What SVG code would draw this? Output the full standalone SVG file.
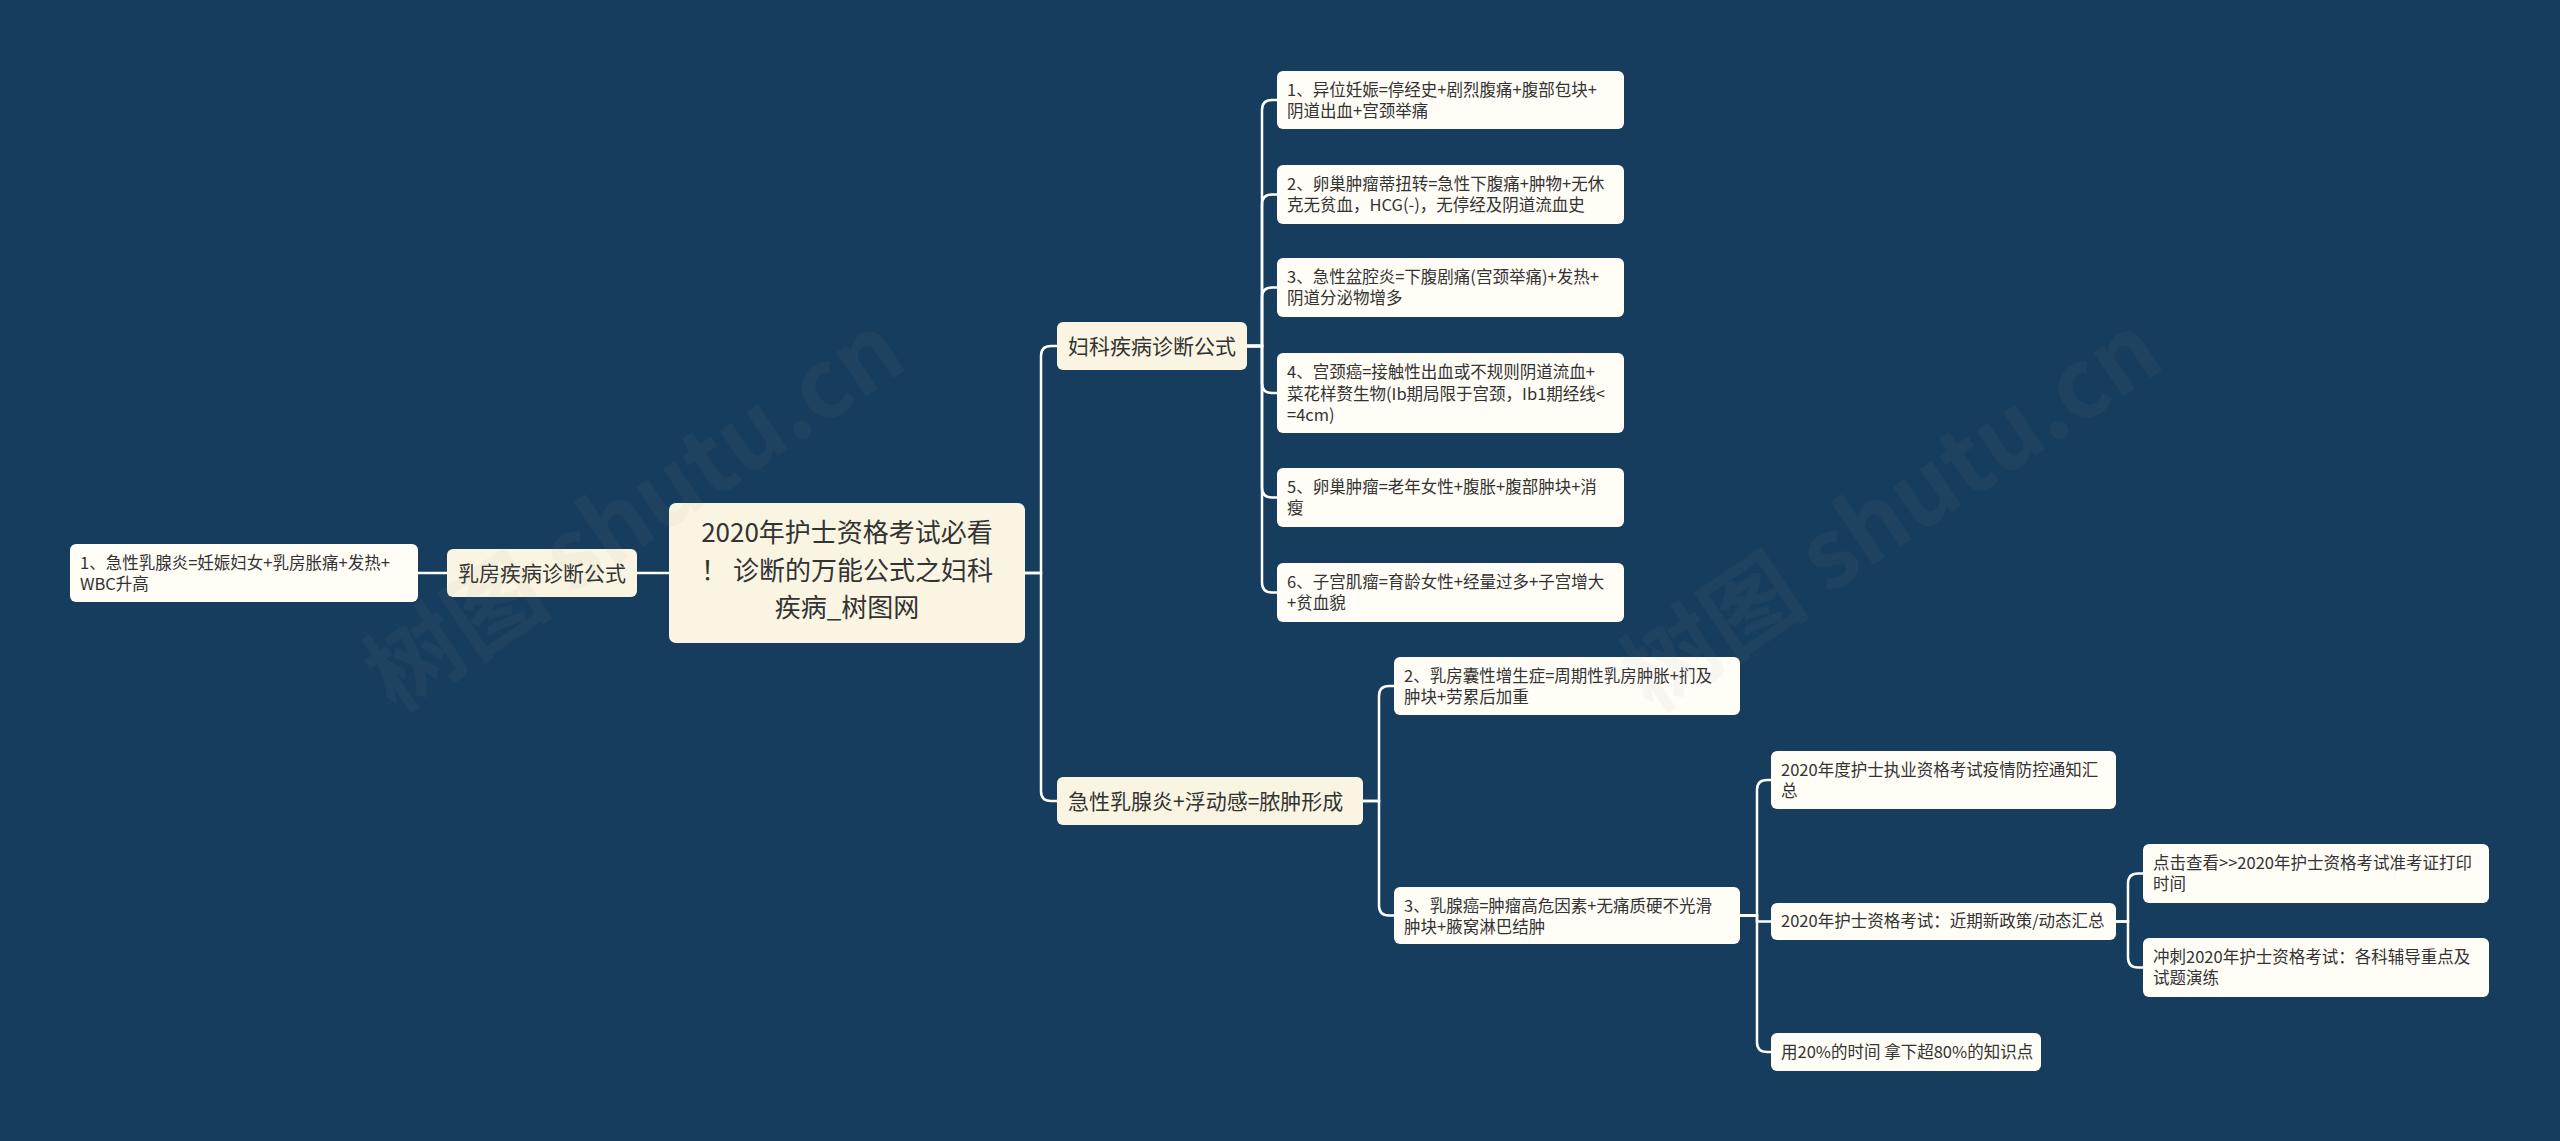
<svg xmlns="http://www.w3.org/2000/svg" width="2560" height="1141" viewBox="0 0 2560 1141">
<style>
.bg{fill:#173d5e}
.main{fill:#faf5e2}
.leaf{fill:#fffdf6}
text{font-family:"Noto Sans CJK SC","Noto Sans",sans-serif;fill:#333333}
.t0{font-size:26px;text-anchor:middle}
.t1{font-size:21px}
.t2{font-size:16.5px}
.ln{fill:none;stroke:#ffffff;stroke-width:2.5;stroke-linecap:round}
.wm{font-size:95px;font-weight:bold;fill:#9a9a9a;opacity:0.06}
</style>
<rect class="bg" x="0" y="0" width="2560" height="1141"/>

<g id="connectors">
  <path class="ln" d="M669 573 H637"/>
  <path class="ln" d="M447 573 H418"/>
  <path class="ln" d="M1025 573 H1041 V356 Q1041 346 1051 346 H1057"/>
  <path class="ln" d="M1025 573 H1041 V791 Q1041 801 1051 801 H1057"/>
  <path class="ln" d="M1247 346 H1262 V110 Q1262 100 1272 100 H1277"/>
  <path class="ln" d="M1247 346 H1262 V204.5 Q1262 194.5 1272 194.5 H1277"/>
  <path class="ln" d="M1247 346 H1262 V297.5 Q1262 287.5 1272 287.5 H1277"/>
  <path class="ln" d="M1247 346 H1262 V383 Q1262 393 1272 393 H1277"/>
  <path class="ln" d="M1247 346 H1262 V487.5 Q1262 497.5 1272 497.5 H1277"/>
  <path class="ln" d="M1247 346 H1262 V582.5 Q1262 592.5 1272 592.5 H1277"/>
  <path class="ln" d="M1363 801 H1379 V696 Q1379 686 1389 686 H1394"/>
  <path class="ln" d="M1363 801 H1379 V905.5 Q1379 915.5 1389 915.5 H1394"/>
  <path class="ln" d="M1740 915.5 H1757 V790 Q1757 780 1767 780 H1771"/>
  <path class="ln" d="M1740 915.5 H1757 V921.5 H1771"/>
  <path class="ln" d="M1740 915.5 H1757 V1042 Q1757 1052 1767 1052 H1771"/>
  <path class="ln" d="M2116 921.5 H2128 V883.5 Q2128 873.5 2138 873.5 H2143"/>
  <path class="ln" d="M2116 921.5 H2128 V957.5 Q2128 967.5 2138 967.5 H2143"/>
</g>

<g id="root">
  <rect class="main" x="669" y="503" width="356" height="140" rx="7"/>
  <text class="t0" x="847" y="542">2020年护士资格考试必看</text>
  <text class="t0" x="847" y="580">！ 诊断的万能公式之妇科</text>
  <text class="t0" x="847" y="617">疾病_树图网</text>
</g>

<g id="n-rufang">
  <rect class="main" x="447" y="549" width="190" height="48" rx="6"/>
  <text class="t1" x="458" y="581">乳房疾病诊断公式</text>
</g>
<g id="n-rufang-1">
  <rect class="leaf" x="70" y="544" width="348" height="58" rx="6"/>
  <text class="t2" x="80" y="569">1、急性乳腺炎=妊娠妇女+乳房胀痛+发热+</text>
  <text class="t2" x="80" y="590">WBC升高</text>
</g>

<g id="n-fuke">
  <rect class="main" x="1057" y="322" width="190" height="48" rx="6"/>
  <text class="t1" x="1068" y="354">妇科疾病诊断公式</text>
</g>
<g id="n-fuke-1">
  <rect class="leaf" x="1277" y="71" width="347" height="58" rx="6"/>
  <text class="t2" x="1287" y="96">1、异位妊娠=停经史+剧烈腹痛+腹部包块+</text>
  <text class="t2" x="1287" y="117">阴道出血+宫颈举痛</text>
</g>
<g id="n-fuke-2">
  <rect class="leaf" x="1277" y="165" width="347" height="59" rx="6"/>
  <text class="t2" x="1287" y="190">2、卵巢肿瘤蒂扭转=急性下腹痛+肿物+无休</text>
  <text class="t2" x="1287" y="211">克无贫血，HCG(-)，无停经及阴道流血史</text>
</g>
<g id="n-fuke-3">
  <rect class="leaf" x="1277" y="258" width="347" height="59" rx="6"/>
  <text class="t2" x="1287" y="283">3、急性盆腔炎=下腹剧痛(宫颈举痛)+发热+</text>
  <text class="t2" x="1287" y="304">阴道分泌物增多</text>
</g>
<g id="n-fuke-4">
  <rect class="leaf" x="1277" y="353" width="347" height="80" rx="6"/>
  <text class="t2" x="1287" y="378">4、宫颈癌=接触性出血或不规则阴道流血+</text>
  <text class="t2" x="1287" y="399.5">菜花样赘生物(Ib期局限于宫颈，Ib1期经线&lt;</text>
  <text class="t2" x="1287" y="421">=4cm)</text>
</g>
<g id="n-fuke-5">
  <rect class="leaf" x="1277" y="468" width="347" height="59" rx="6"/>
  <text class="t2" x="1287" y="493">5、卵巢肿瘤=老年女性+腹胀+腹部肿块+消</text>
  <text class="t2" x="1287" y="514">瘦</text>
</g>
<g id="n-fuke-6">
  <rect class="leaf" x="1277" y="563" width="347" height="59" rx="6"/>
  <text class="t2" x="1287" y="588">6、子宫肌瘤=育龄女性+经量过多+子宫增大</text>
  <text class="t2" x="1287" y="609">+贫血貌</text>
</g>

<g id="n-ruxian">
  <rect class="main" x="1057" y="777" width="306" height="48" rx="6"/>
  <text class="t1" x="1068" y="809">急性乳腺炎+浮动感=脓肿形成</text>
</g>
<g id="n-ruxian-2">
  <rect class="leaf" x="1394" y="657" width="346" height="58" rx="6"/>
  <text class="t2" x="1404" y="682">2、乳房囊性增生症=周期性乳房肿胀+扪及</text>
  <text class="t2" x="1404" y="703">肿块+劳累后加重</text>
</g>
<g id="n-ruxian-3">
  <rect class="leaf" x="1394" y="887" width="346" height="57" rx="6"/>
  <text class="t2" x="1404" y="912">3、乳腺癌=肿瘤高危因素+无痛质硬不光滑</text>
  <text class="t2" x="1404" y="933">肿块+腋窝淋巴结肿</text>
</g>

<g id="n-a">
  <rect class="leaf" x="1771" y="751" width="345" height="58" rx="6"/>
  <text class="t2" x="1781" y="776">2020年度护士执业资格考试疫情防控通知汇</text>
  <text class="t2" x="1781" y="797">总</text>
</g>
<g id="n-b">
  <rect class="leaf" x="1771" y="903" width="345" height="37" rx="6"/>
  <text class="t2" x="1781" y="927">2020年护士资格考试：近期新政策/动态汇总</text>
</g>
<g id="n-c">
  <rect class="leaf" x="1771" y="1033" width="270" height="38" rx="6"/>
  <text class="t2" x="1781" y="1058">用20%的时间 拿下超80%的知识点</text>
</g>
<g id="n-b1">
  <rect class="leaf" x="2143" y="844" width="346" height="59" rx="6"/>
  <text class="t2" x="2153" y="869">点击查看&gt;&gt;2020年护士资格考试准考证打印</text>
  <text class="t2" x="2153" y="890">时间</text>
</g>
<g id="n-b2">
  <rect class="leaf" x="2143" y="938" width="346" height="59" rx="6"/>
  <text class="t2" x="2153" y="963">冲刺2020年护士资格考试：各科辅导重点及</text>
  <text class="t2" x="2153" y="984">试题演练</text>
</g>

<g id="watermark">
  <text class="wm" x="653" y="540" text-anchor="middle" transform="rotate(-34 653 540)">树图 shutu.cn</text>
  <text class="wm" x="1910" y="540" text-anchor="middle" transform="rotate(-34 1910 540)">树图 shutu.cn</text>
</g>
</svg>
